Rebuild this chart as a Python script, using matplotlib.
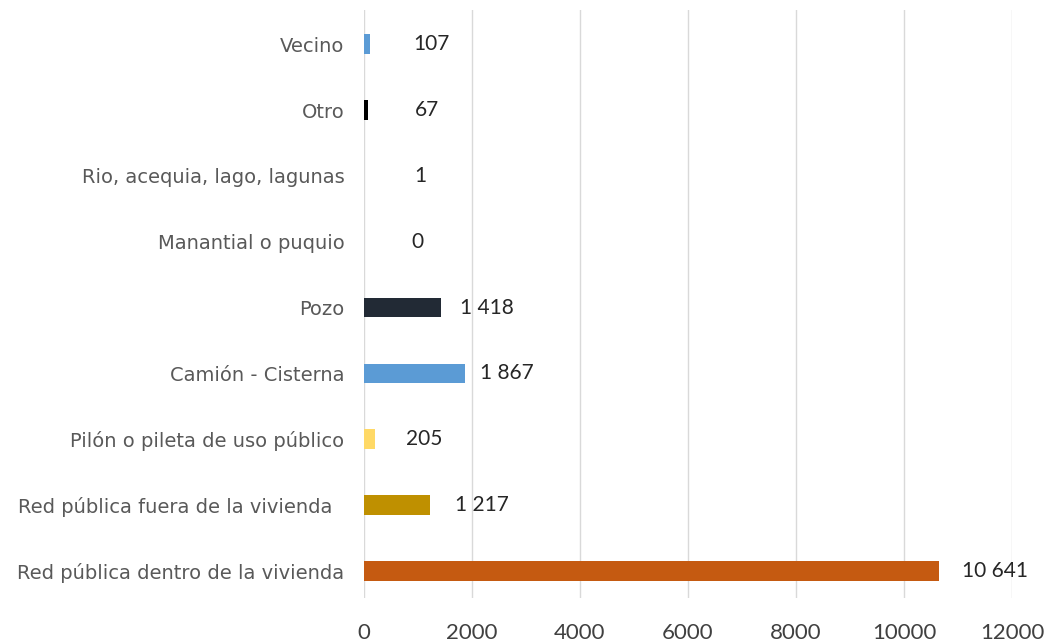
import matplotlib.pyplot as plt

# categories from bottom to top
categories = ['Red pública dentro de la vivienda', 'Red pública fuera de la vivienda  ',
              'Pilón o pileta de uso público', 'Camión - Cisterna', 'Pozo',
              'Manantial o puquio', 'Rio, acequia, lago, lagunas', 'Otro', 'Vecino']
values = [10641, 1217, 205, 1867, 1418, 0, 1, 67, 107]
value_labels = ['10 641', '1 217', '205', '1 867', '1 418', '0', '1', '67', '107']
colors = ['#C55A11', '#BF9000', '#FFD966', '#5B9BD5', '#222A35',
          '#5B9BD5', '#5B9BD5', '#000000', '#5B9BD5']
# label offsets in points (Excel placed them by hand)
label_dx = [17, 18, 22, 11, 14, 34, 36, 34, 31]
xticks = [0, 2000, 4000, 6000, 8000, 10000, 12000]

plt.rcParams['font.family'] = ['Lato', 'DejaVu Sans']

fig = plt.figure(figsize=(10.49, 6.42), dpi=100)
ax = fig.add_axes([364 / 1049, 1 - 598 / 642, (1012 - 364) / 1049, (598 - 10) / 642])

y = range(len(categories))
ax.barh(y, values, height=0.3, color=colors, zorder=3)
for i, v in enumerate(values):
    ax.annotate(value_labels[i], (v, i), xytext=(label_dx[i], 0), textcoords='offset points',
                va='center', ha='left', fontsize=15, color='#262626')

ax.set_xlim(0, 12000)
ax.set_ylim(-0.41, 8.52)
ax.set_xticks(xticks)
ax.set_xticklabels([str(t) for t in xticks], fontsize=16, color='#404040')
ax.set_yticks(list(y))
ax.set_yticklabels(categories, fontsize=14, color='#595959', family='DejaVu Sans')
ax.tick_params(length=0)
ax.tick_params(axis='x', pad=18)
ax.tick_params(axis='y', pad=14)
ax.grid(axis='x', color='#D9D9D9', linewidth=1, zorder=0)
for s in ax.spines.values():
    s.set_visible(False)

fig.savefig('out.png', dpi=100)
